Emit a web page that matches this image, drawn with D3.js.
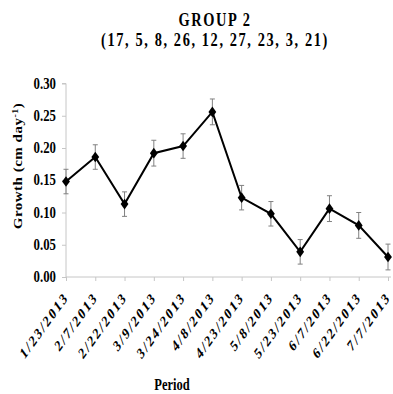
<!DOCTYPE html>
<html>
<head>
<meta charset="utf-8">
<script src="https://cdn.jsdelivr.net/npm/d3@7"></script>
<style>
  html, body { margin: 0; padding: 0; background: #fff; }
  svg { display: block; }
  text { font-family: "Liberation Serif", "Times New Roman", serif; font-weight: bold; fill: #000; }
</style>
</head>
<body>
<script>
// Sampling dates (category axis)
const periods = ["1/23/2013", "2/7/2013", "2/22/2013", "3/9/2013", "3/24/2013", "4/8/2013",
                 "4/23/2013", "5/8/2013", "5/23/2013", "6/7/2013", "6/22/2013", "7/7/2013"];
// Mean growth (cm day-1) per period
const growth = [0.148, 0.186, 0.113, 0.192, 0.203, 0.256, 0.123, 0.098, 0.039, 0.106, 0.080, 0.031];
// Error bar half-widths (cm day-1)
const errors = [0.019, 0.019, 0.019, 0.020, 0.019, 0.020, 0.019, 0.019, 0.019, 0.020, 0.020, 0.020];
// Y axis tick values
const yTicks = [0.00, 0.05, 0.10, 0.15, 0.20, 0.25, 0.30];

const titleLines = ["GROUP 2", "(17, 5, 8, 26, 12, 27, 23, 3, 21)"];
const yTitle = "Growth  (cm day";
const xTitle = "Period";

const W = 393, H = 394;
const svg = d3.select("body").append("svg").attr("width", W).attr("height", H);

const x = d3.scalePoint().domain(periods).range([66, 388]);
const y = d3.scaleLinear().domain([0, 0.30]).range([277, 83.5]);

const axisGray = "#c6c6c6";

// Title (two centred lines, narrow glyphs)
titleLines.forEach((t, i) => {
  svg.append("g")
    .attr("transform", `translate(215,${i === 0 ? 26 : 46}) scale(0.8,1)`)
    .append("text")
    .attr("text-anchor", "middle")
    .style("font-size", "18px")
    .style("letter-spacing", "2px")
    .text(t);
});

// Y axis
const yAxis = d3.axisLeft(y).tickValues(yTicks).tickSize(4).tickFormat(d3.format(".2f"));
const gy = svg.append("g").attr("transform", "translate(66,0)").call(yAxis);
gy.select(".domain").attr("stroke", axisGray).attr("d", `M-4,${y(0.30)}H0V${y(0)}`);
gy.selectAll(".tick line").attr("stroke", axisGray);
gy.selectAll(".tick text").remove();
yTicks.forEach(v => {
  svg.append("g")
    .attr("transform", `translate(56,${y(v) + 5}) scale(0.8,1)`)
    .append("text")
    .attr("text-anchor", "end")
    .style("font-size", "16px")
    .text(d3.format(".2f")(v));
});

// X axis
const xAxis = d3.axisBottom(x).tickSize(4).tickFormat("");
const gx = svg.append("g").attr("transform", `translate(0,${y(0)})`).call(xAxis);
gx.select(".domain").attr("stroke", axisGray).attr("d", `M66,0H391`);
gx.selectAll(".tick line").attr("stroke", axisGray);
periods.forEach(p => {
  svg.append("g")
    .attr("transform", `translate(${x(p) + 3},298) scale(0.72,1) rotate(-45)`)
    .append("text")
    .attr("text-anchor", "end")
    .style("font-size", "16px")
    .style("letter-spacing", "2.5px")
    .text(p);
});

// Axis titles
const yt = svg.append("g")
  .attr("transform", `translate(22,166) scale(0.8,1) rotate(-90)`)
  .append("text")
  .attr("text-anchor", "middle")
  .style("font-size", "15px")
  .style("letter-spacing", "0.5px");
yt.append("tspan").text(yTitle);
yt.append("tspan").attr("dy", -5).style("font-size", "10px").text("-1");
yt.append("tspan").attr("dy", 5).text(")");

svg.append("g")
  .attr("transform", `translate(172,390) scale(0.78,1)`)
  .append("text")
  .attr("text-anchor", "middle")
  .style("font-size", "16px")
  .text(xTitle);

// Error bars
const eb = svg.append("g").attr("stroke", "#808080").attr("stroke-width", 1);
periods.forEach((p, i) => {
  const cx = x(p), top = y(growth[i] + errors[i]), bot = y(growth[i] - errors[i]);
  eb.append("line").attr("x1", cx).attr("x2", cx).attr("y1", top).attr("y2", bot);
  eb.append("line").attr("x1", cx - 2.5).attr("x2", cx + 2.5).attr("y1", top).attr("y2", top);
  eb.append("line").attr("x1", cx - 2.5).attr("x2", cx + 2.5).attr("y1", bot).attr("y2", bot);
});

// Series line
const line = d3.line().x((d, i) => x(periods[i])).y(d => y(d));
svg.append("path").datum(growth)
  .attr("d", line)
  .attr("fill", "none")
  .attr("stroke", "#000")
  .attr("stroke-width", 2);

// Diamond markers
const diamond = d3.symbol().type(d3.symbolDiamond).size(40);
svg.append("g").selectAll("path").data(growth).join("path")
  .attr("transform", (d, i) => `translate(${x(periods[i])},${y(d)}) scale(1.15,0.9)`)
  .attr("d", diamond)
  .attr("fill", "#000");
</script>
</body>
</html>
